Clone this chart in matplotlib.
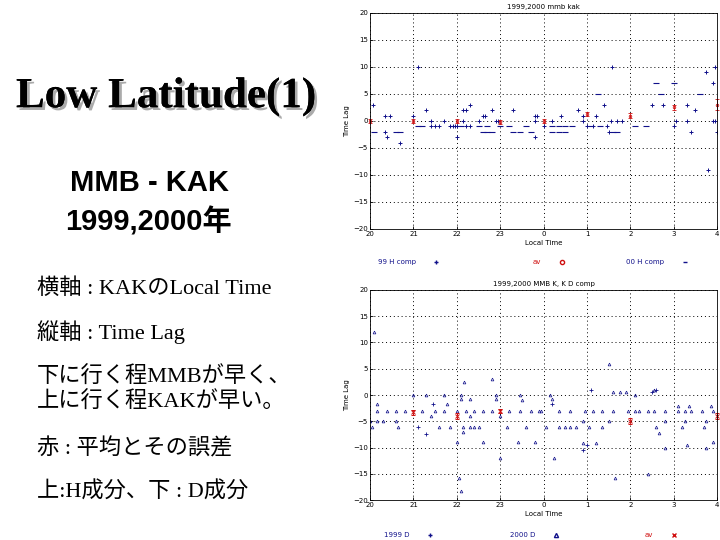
import numpy as np
import matplotlib
matplotlib.use('Agg')
import matplotlib.pyplot as plt
import matplotlib.patheffects as pe
from matplotlib.lines import Line2D

# local time of KAK, hours 20..28 (24..28 = 0..4 next day)
hour_ticks = [20, 21, 22, 23, 24, 25, 26, 27, 28]
hour_labels = ['20', '21', '22', '23', '0', '1', '2', '3', '4']
lag_ticks = [-20, -15, -10, -5, 0, 5, 10, 15, 20]

# H comp 1999 (+)
h99_t = [21.1, 20.06, 20.35, 20.46, 20.35, 20.4, 20.7, 21.0, 21.3, 21.4, 21.5, 21.6,
         21.4, 21.7, 21.85, 21.9, 21.95, 22.0, 22.0, 22.15, 22.2, 22.3, 22.2, 22.3,
         22.15, 22.5, 22.6, 22.65, 22.8, 22.9, 22.95, 23.3, 23.8, 23.85, 23.8, 23.8,
         25.57, 27.95, 27.75, 27.9, 25.4, 26.5, 26.75, 27.3, 27.5, 24.8, 24.4, 24.9,
         25.2, 24.2, 24.9, 25.55, 25.7, 25.8, 27.05, 27.3, 27.9, 27.95, 24.0, 25.0,
         25.15, 25.45, 27.0, 25.5, 27.4, 28.0, 27.8]
h99_lag = [10, 3, 1, 1, -2, -3, -4, 1, 2, -1, -1, -1,
           0, 0, -1, -1, -1, -1, -3, 2, 2, 3, -1, -1,
           0, 0, 1, 1, 2, 0, 0, 2, 1, 1, 0, -3,
           10, 10, 9, 7, 3, 3, 3, 3, 2, 2, 1, 1,
           1, 0, 0, 0, 0, 0, 0, 0, 0, 0, -1, -1,
           -1, -1, -1, -2, -2, -2, -9]

# H comp 2000 (-)
h00_t = [20.1, 20.6, 20.7, 21.1, 21.2, 22.6, 22.7, 22.8, 22.5, 22.7, 23.0, 23.3,
         23.45, 23.6, 23.7, 24.2, 24.35, 24.5, 24.65, 24.2, 24.35, 24.5, 25.1, 25.3,
         25.6, 25.7, 26.1, 26.35, 26.6, 27.0, 25.25, 26.7, 27.6, 21.9, 22.1, 23.2]
h00_lag = [-2, -2, -2, -1, -1, -2, -2, -2, -1, -1, -1, -2,
           -2, -1, -2, -1, -1, -1, -1, -2, -2, -2, -1, -1,
           -2, -2, -1, -1, 7, 7, 5, 5, 5, -1, -1, -1]

# H comp average and error
hav_t = [20, 21, 22, 23, 24, 25, 26, 27, 28]
hav_lag = [0, 0, 0, -0.2, 0, 1.3, 1, 2.5, 3]
hav_err = [0.3, 0.3, 0.3, 0.3, 0.3, 0.3, 0.4, 0.4, 1.0]

# D comp 1999 (+)
d99_t = [21.3, 25.1, 26.6, 24.9, 24.2, 21.45, 25.0, 26.5, 21.1]
d99_lag = [-7.5, 1, 1, -10.4, -1.7, -1.7, -9.5, 0.5, -6]

# D comp 2000 (^)
d00_t = [20.1, 21.3, 22.17, 22.8, 25.5, 25.6, 25.75, 25.9, 21.0, 21.7, 22.1, 22.9,
         23.45, 22.1, 22.3, 22.9, 20.15, 21.77, 23.5,
         20.15, 20.4, 20.6, 20.8, 21.2, 21.5, 21.7, 22.0, 22.2, 22.4, 22.6, 22.8,
         23.2, 23.45, 23.7, 23.9,
         21.4, 22.3, 23.0,
         20.0, 20.15, 20.3, 20.6,
         20.05, 20.65, 21.6, 21.85, 22.15, 22.3, 22.4, 22.5, 23.15, 23.6,
         22.15, 22.0, 22.6, 23.4, 23.8, 23.0, 22.05, 22.1,
         24.15, 26.55, 26.1, 24.2,
         23.95, 24.35, 24.6, 24.95, 25.15, 25.35, 25.6, 25.95, 26.1, 26.2, 26.4, 26.55,
         26.8, 27.1, 27.25, 27.4, 27.65, 27.9,
         27.1, 27.35, 27.85,
         24.9, 25.5, 26.8, 27.25, 27.75,
         24.05, 24.35, 24.5, 24.6, 24.75, 25.05, 25.35, 26.6, 27.2, 27.7,
         26.65, 24.9, 25.2, 26.8, 27.3, 27.75, 27.9, 24.25, 25.65, 26.4]
d00_lag = [12, 0, 2.5, 3, 6, 0.5, 0.5, 0.5, 0, 0, 0, 0,
           0, -0.75, -0.75, -0.75, -1.7, -1.7, -1,
           -3, -3, -3, -3, -3, -3, -3, -3, -3, -3, -3, -3,
           -3, -3, -3, -3,
           -4, -4, -4,
           -5, -5, -5, -5,
           -6, -6, -6, -6, -6, -6, -6, -6, -6, -6,
           -7, -9, -9, -9, -9, -12, -15.75, -18.25,
           0, 1, 0, -0.75,
           -3, -3, -3, -3, -3, -3, -3, -3, -3, -3, -3, -3,
           -3, -3, -3, -3, -3, -3,
           -2, -2, -2,
           -5, -5, -5, -5, -5,
           -6, -6, -6, -6, -6, -6, -6, -6, -6, -6,
           -7.3, -9.2, -9.2, -10, -9.5, -10, -9, -12, -15.75, -15]

# D comp average and error
dav_t = [21, 22, 23, 26, 28]
dav_lag = [-3.3, -4, -3, -5, -4]
dav_err = [0.5, 0.6, 0.4, 0.6, 0.6]

blue = '#10108a'
red = '#d01010'
small = 5

fig = plt.figure(figsize=(7.2, 5.4), dpi=100)
fig.patch.set_facecolor('white')

ax1 = fig.add_axes([0.514, 0.576, 0.482, 0.4])
ax2 = fig.add_axes([0.514, 0.074, 0.482, 0.389])


def style(ax, title, xlabel):
    ax.set_xlim(20, 28)
    ax.set_ylim(-20, 20)
    ax.set_xticks(hour_ticks)
    ax.set_xticklabels(hour_labels)
    ax.set_yticks(lag_ticks)
    ax.tick_params(labelsize=small, length=2, width=0.6, direction='in', pad=1.5)
    ax.grid(True, color='black', linestyle=(0, (1, 3)), linewidth=0.7)
    for s in ax.spines.values():
        s.set_linewidth(0.6)
    ax.set_title(title, fontsize=small, pad=3)
    ax.set_xlabel(xlabel, fontsize=small, labelpad=2)
    ax.set_ylabel('Time Lag', fontsize=small, labelpad=2)


# top: H comp
ax1.plot(h99_t, h99_lag, '+', color=blue, ms=2.5, mew=0.7)
ax1.plot(h00_t, h00_lag, '_', color=blue, ms=4, mew=0.8)
ax1.errorbar(hav_t, hav_lag, yerr=hav_err, fmt='o', color=red, ms=1.8,
             mfc='none', mew=0.6, elinewidth=0.6, capsize=1.2, clip_on=False)
style(ax1, '1999,2000 mmb kak', 'Local Time')

# bottom: D comp
ax2.plot(d99_t, d99_lag, '+', color=blue, ms=2.5, mew=0.6)
ax2.plot(d00_t, d00_lag, '^', color=blue, ms=2, mfc='none', mew=0.5)
ax2.errorbar(dav_t, dav_lag, yerr=dav_err, fmt='x', color=red, ms=2.2,
             mew=0.7, elinewidth=0.6, capsize=1.2, clip_on=False)
style(ax2, '1999,2000 MMB K, K D comp', 'Local Time')

# legends below each panel
legs = [
    (0.57, 1 - 262 / 540, '99 H comp', blue, '+'),
    (0.765, 1 - 262 / 540, 'av', red, 'o'),
    (0.915, 1 - 262 / 540, '00 H comp', blue, '_'),
    (0.57, 1 - 535 / 540, '1999 D', blue, '+'),
    (0.745, 1 - 535 / 540, '2000 D', blue, '^'),
    (0.92, 1 - 535 / 540, 'av', red, 'x'),
]
for x, y, lab, c, m in legs:
    h = Line2D([], [], linestyle='none', marker=m, color=c, ms=3, mfc='none')
    lg = fig.legend(handles=[h], labels=[lab], loc='center', bbox_to_anchor=(x, y),
                    frameon=False, fontsize=small, markerfirst=False,
                    handletextpad=2.0, borderpad=0)
    for t in lg.get_texts():
        t.set_color(c)

# slide text on the left
fig.text(166 / 720, 1 - 97 / 540, 'Low Latitude(1)', ha='center', va='center',
         fontsize=31, fontweight='bold', family='Liberation Serif',
         path_effects=[pe.withSimplePatchShadow(offset=(2, -2), shadow_rgbFace='#888888', alpha=0.7),
                       pe.Normal()])
fig.text(149 / 720, 1 - 183 / 540, 'MMB - KAK', ha='center', va='center',
         fontsize=21, fontweight='bold', family=['Liberation Sans', 'Noto Sans CJK JP'])
fig.text(148 / 720, 1 - 222 / 540, '1999,2000年', ha='center', va='center',
         fontsize=21, fontweight='bold', family=['Liberation Sans', 'Noto Sans CJK JP'])

fam = ['Liberation Serif', 'Noto Sans CJK JP']
lines = [
    (289, '横軸 : KAKのLocal Time'),
    (332, '縦軸 : Time Lag'),
    (377, '下に行く程MMBが早く、'),
    (402, '上に行く程KAKが早い。'),
    (449, '赤 : 平均とその誤差'),
    (492, '上:H成分、下 : D成分'),
]
for y, s in lines:
    fig.text(37 / 720, 1 - y / 540, s, ha='left', va='center', fontsize=16, family=fam)

fig.savefig('out.png', dpi=100)
